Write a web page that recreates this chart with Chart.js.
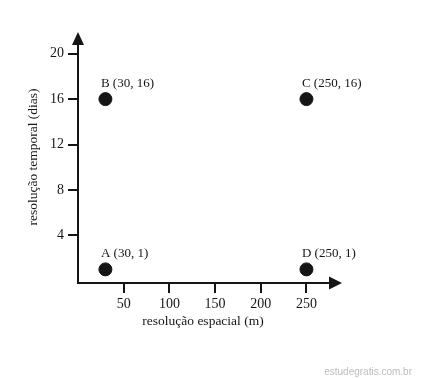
<!DOCTYPE html>
<html>
<head>
<meta charset="utf-8">
<script src="https://cdn.jsdelivr.net/npm/chart.js@4.4.1/dist/chart.umd.min.js"></script>
<style>
    html, body { margin: 0; padding: 0; background: #ffffff; }
    #chart { display: block; }
</style>
</head>
<body>
<canvas id="chart" width="422" height="378"></canvas>
<script>
const pointNames = ['A', 'B', 'C', 'D'];
const xValues = [30, 30, 250, 250];
const yValues = [1, 16, 16, 1];
const xTicks = [50, 100, 150, 200, 250];
const yTicks = [4, 8, 12, 16, 20];

const xTitle = 'resolução espacial (m)';
const yTitle = 'resolução temporal (dias)';
const watermark = 'estudegratis.com.br';

const ink = '#151515';
const serif = '"Liberation Serif", "Times New Roman", serif';

const points = xValues.map(function(x, i) {
    return { x: x, y: yValues[i] };
});

// axes with arrow heads, point labels, titles and the watermark
const decorations = {
    id: 'decorations',
    afterDraw: function(chart) {
        const ctx = chart.ctx;
        const area = chart.chartArea;
        const x0 = area.left;
        const y0 = area.bottom;

        ctx.save();
        ctx.strokeStyle = ink;
        ctx.fillStyle = ink;
        ctx.lineWidth = 2;

        ctx.beginPath();
        ctx.moveTo(x0, y0 + 1);
        ctx.lineTo(x0, area.top + 13);
        ctx.moveTo(x0 - 1, y0);
        ctx.lineTo(area.right - 12, y0);
        ctx.stroke();

        ctx.beginPath();
        ctx.moveTo(x0, area.top + 1);
        ctx.lineTo(x0 - 6, area.top + 14);
        ctx.lineTo(x0 + 6, area.top + 14);
        ctx.closePath();
        ctx.fill();

        ctx.beginPath();
        ctx.moveTo(area.right - 1, y0);
        ctx.lineTo(area.right - 14, y0 - 6.5);
        ctx.lineTo(area.right - 14, y0 + 6.5);
        ctx.closePath();
        ctx.fill();

        ctx.font = '13px ' + serif;
        ctx.textAlign = 'left';
        ctx.textBaseline = 'alphabetic';
        const meta = chart.getDatasetMeta(0);
        meta.data.forEach(function(el, i) {
            const label = pointNames[i] + ' (' + xValues[i] + ', ' + yValues[i] + ')';
            ctx.fillText(label, el.x - 4.5, el.y - 12.5);
        });

        ctx.font = '13.5px ' + serif;
        ctx.textAlign = 'center';
        ctx.textBaseline = 'middle';
        ctx.fillText(xTitle, 203, 321);

        ctx.translate(33, (area.top + area.bottom) / 2);
        ctx.rotate(-Math.PI / 2);
        ctx.fillText(yTitle, 0, 0);
        ctx.setTransform(1, 0, 0, 1, 0, 0);

        ctx.font = '10px "Liberation Sans", sans-serif';
        ctx.fillStyle = '#bdbdbd';
        ctx.textAlign = 'right';
        ctx.fillText(watermark, 412, 372);
        ctx.restore();
    }
};

const ctx = document.getElementById('chart').getContext('2d');
const myScatter = new Chart(ctx, {
    type: 'scatter',
    data: {
        datasets: [{
            data: points,
            backgroundColor: ink,
            borderColor: ink,
            pointRadius: 6.5,
            pointHoverRadius: 6.5
        }]
    },
    options: {
        responsive: false,
        animation: false,
        layout: {
            padding: { top: 31, right: 79, left: 0, bottom: 0 }
        },
        plugins: {
            legend: { display: false },
            tooltip: { enabled: false }
        },
        scales: {
            x: {
                type: 'linear',
                min: 0,
                max: 290,
                afterBuildTicks: function(scale) {
                    scale.ticks = xTicks.map(function(v) { return { value: v }; });
                },
                afterFit: function(scale) {
                    scale.height = 95;
                },
                border: { display: false },
                grid: {
                    drawOnChartArea: false,
                    drawTicks: true,
                    tickLength: 10,
                    color: ink,
                    lineWidth: 2
                },
                ticks: {
                    padding: 3,
                    color: ink,
                    font: { family: serif, size: 14 }
                }
            },
            y: {
                type: 'linear',
                min: -0.2,
                max: 22,
                afterBuildTicks: function(scale) {
                    scale.ticks = yTicks.map(function(v) { return { value: v }; });
                },
                afterFit: function(scale) {
                    scale.width = 78;
                },
                border: { display: false },
                grid: {
                    drawOnChartArea: false,
                    drawTicks: true,
                    tickLength: 10,
                    color: ink,
                    lineWidth: 2
                },
                ticks: {
                    padding: 4,
                    color: ink,
                    font: { family: serif, size: 14 }
                }
            }
        }
    },
    plugins: [decorations]
});
</script>
</body>
</html>
